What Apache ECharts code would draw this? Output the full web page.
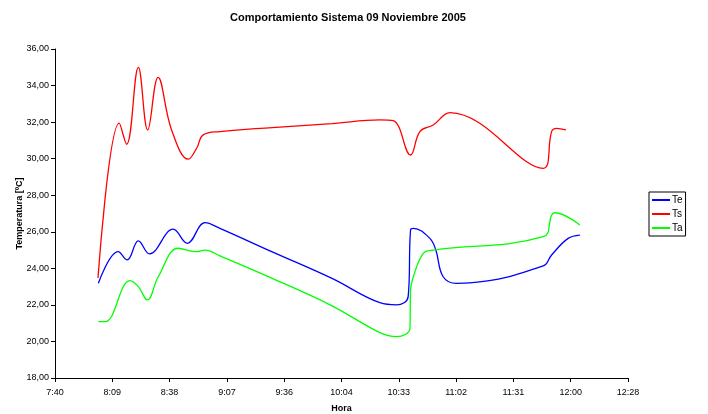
<!DOCTYPE html>
<html><head><meta charset="utf-8">
<script src="https://cdn.jsdelivr.net/npm/echarts@6/dist/echarts.min.js"></script>
<style>html,body{margin:0;padding:0;background:#fff}#c{width:708px;height:414px}</style>
</head><body><div id="c"></div>
<script>
// times in minutes after midnight
var teTime = [482.6, 492.6, 497.1, 502.7, 508.3, 520.2, 527.3, 536.2, 543.7, 570, 600, 624.1, 632.5, 638.3, 639.5, 640.9, 649.2, 652.2, 655.9, 662.6, 669.3, 706.2, 710.4, 718.7, 724.6];
var teVal  = [23.18, 24.91, 24.46, 25.5, 24.79, 26.14, 25.37, 26.5, 26.19, 24.9, 23.45, 22.12, 22.0, 22.45, 26.1, 26.19, 25.64, 25.0, 23.54, 23.18, 23.2, 24.13, 24.73, 25.64, 25.82];
var tsTime = [482.4, 493.1, 496.8, 502.7, 507.4, 512.6, 519.4, 527.8, 532, 535.3, 543.7, 570, 600, 624.1, 630.8, 639.5, 644.2, 650.9, 659.3, 706.2, 710.4, 712.9, 717.6];
var tsVal  = [23.47, 31.94, 30.79, 35.0, 31.57, 34.45, 31.57, 29.97, 30.57, 31.3, 31.48, 31.7, 31.92, 32.12, 32.08, 30.2, 31.48, 31.84, 32.52, 29.47, 31.48, 31.66, 31.57];
var taTime = [482.6, 486, 498.5, 502.7, 507.2, 512.7, 522.8, 532, 536.2, 543.7, 570, 600, 624.1, 632.5, 639.2, 639.5, 640.9, 645.9, 650.9, 706.2, 710.4, 712, 724.6];
var taVal  = [21.08, 21.08, 23.33, 23.0, 22.27, 23.54, 25.1, 24.91, 25.0, 24.68, 23.45, 21.95, 20.48, 20.26, 20.72, 22.8, 23.54, 24.82, 25.0, 25.73, 26.9, 27.04, 26.37];
var seriesNames = ['Te', 'Ts', 'Ta'];
var seriesColors = ['#0000ff', '#ff0000', '#00ff00'];

function pairs(t, v) { return t.map(function (x, i) { return [x, v[i]]; }); }
var datasets = [pairs(teTime, teVal), pairs(tsTime, tsVal), pairs(taTime, taVal)];

var font = 'Liberation Sans, Arial, sans-serif';
var chart = echarts.init(document.getElementById('c'));
chart.setOption({
  animation: false,
  backgroundColor: '#fff',
  title: {
    text: 'Comportamiento Sistema 09 Noviembre 2005',
    left: 225, top: 7,
    textStyle: { fontFamily: font, fontSize: 11, fontWeight: 'bold', color: '#000' }
  },
  legend: {
    data: seriesNames,
    orient: 'vertical',
    left: 649, top: 192,
    itemWidth: 18, itemHeight: 2, itemGap: 4,
    icon: 'rect',
    borderColor: '#000', borderWidth: 1,
    padding: [3, 3, 3, 3],
    textStyle: { fontFamily: font, fontSize: 10, color: '#000', padding: [0, 0, 0, -3] }
  },
  grid: { left: 55, right: 80, top: 49, bottom: 36, outerBoundsMode: 'none', containLabel: false },
  xAxis: {
    type: 'value',
    min: 460.8, max: 748.8, interval: 28.8,
    name: 'Hora', nameLocation: 'middle', nameGap: 26, nameMoveOverlap: false,
    nameTextStyle: { fontFamily: font, fontSize: 9, fontWeight: 'bold', color: '#000' },
    axisLine: { lineStyle: { color: '#000', width: 1 } },
    axisTick: { length: 4, lineStyle: { color: '#000' } },
    splitLine: { show: false },
    axisLabel: {
      fontFamily: font, fontSize: 9, color: '#000', margin: 10,
      formatter: function (v) {
        var m = Math.floor(v + 1e-6);
        var h = Math.floor(m / 60), mm = m % 60;
        return h + ':' + (mm < 10 ? '0' : '') + mm;
      }
    }
  },
  yAxis: {
    type: 'value',
    min: 18, max: 36, interval: 2,
    name: 'Temperatura [ºC]', nameLocation: 'middle', nameGap: 31, nameRotate: 90, nameMoveOverlap: false,
    nameTextStyle: { fontFamily: font, fontSize: 9, fontWeight: 'bold', color: '#000' },
    axisLine: { show: true, lineStyle: { color: '#000', width: 1 } },
    axisTick: { show: true, length: 4, lineStyle: { color: '#000' } },
    splitLine: { show: false },
    axisLabel: {
      fontFamily: font, fontSize: 9, color: '#000', margin: 6,
      formatter: function (v) { return v.toFixed(2).replace('.', ','); }
    }
  },
  series: seriesNames.map(function (n, i) {
    return {
      name: n, type: 'line', data: datasets[i], smooth: 0.4,
      showSymbol: false, symbol: 'none',
      lineStyle: { color: seriesColors[i], width: 1.3 },
      itemStyle: { color: seriesColors[i] }
    };
  })
});
</script></body></html>
